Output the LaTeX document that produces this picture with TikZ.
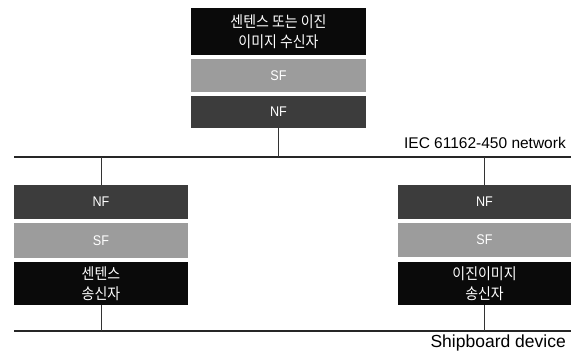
\documentclass[tikz,border=0pt]{standalone}
\usepackage{fontspec}
\setmainfont{Liberation Sans}
\newfontfamily\narrow{Liberation Sans}[FakeStretch=0.9]
\newfontfamily\kor{Noto Sans CJK KR}[FakeStretch=0.9]
\definecolor{nfgray}{HTML}{3C3C3C}
\definecolor{sfgray}{HTML}{9C9C9C}
\definecolor{boxblack}{HTML}{0A0A0A}
\begin{document}
\begin{tikzpicture}[x=1pt,y=-1pt,
  layer/.style={draw=none,inner sep=0pt,text=white,align=center,font=\narrow\fontsize{14}{16}\selectfont},
  nfbox/.style={layer,fill=nfgray},
  sfbox/.style={layer,fill=sfgray},
  blkbox/.style={layer,fill=boxblack,font=\kor\fontsize{15.5}{20.5}\selectfont},
  wire/.style={draw=black!80,line width=0.8pt},
  bus/.style={draw=black!85,line width=1.1pt},
  lbl/.style={inner sep=0pt}]
\useasboundingbox (0,0) rectangle (571,353);
% top stack
\node[blkbox,minimum width=175,minimum height=47] (tb) at (278.5,31.5) {센텐스 또는 이진\\이미지 수신자};
\node[sfbox,minimum width=175,minimum height=33] (tsf) at (278.5,75.5) {SF};
\node[nfbox,minimum width=175,minimum height=32] (tnf) at (278.5,112) {NF};
% network
\coordinate (nL) at (14,157);
\coordinate (nR) at (571,157);
\draw[bus] (nL) -- (nR);
\coordinate (tj) at (278.5,157);
\draw[wire] (tnf.south) -- (tj);
\node[lbl,anchor=base east,font=\fontsize{15.5}{17}\selectfont] (net) at (566,148) {IEC 61162-450 network};
% left stack
\node[nfbox,minimum width=174,minimum height=34] (lnf) at (101,202) {NF};
\node[sfbox,minimum width=174,minimum height=35] (lsf) at (101,240.5) {SF};
\node[blkbox,minimum width=174,minimum height=43] (lb) at (101,283.5) {센텐스\\송신자};
% right stack
\node[nfbox,minimum width=173,minimum height=34] (rnf) at (484.5,202) {NF};
\node[sfbox,minimum width=173,minimum height=34] (rsf) at (484.5,240) {SF};
\node[blkbox,minimum width=173,minimum height=43] (rb) at (484.5,283.5) {이진이미지\\송신자};
\coordinate (lj) at (101,157);
\coordinate (rj) at (484.5,157);
\draw[wire] (lj) -- (lnf.north);
\draw[wire] (rj) -- (rnf.north);
% bottom device line
\coordinate (dL) at (14,331);
\coordinate (dR) at (571,331);
\draw[bus] (dL) -- (dR);
\coordinate (lbj) at (101,331);
\coordinate (rbj) at (484.5,331);
\draw[wire] (lb.south) -- (lbj);
\draw[wire] (rb.south) -- (rbj);
\node[lbl,anchor=base east,font=\fontsize{17.5}{19}\selectfont] (dev) at (566,347) {Shipboard device};
\end{tikzpicture}
\end{document}
